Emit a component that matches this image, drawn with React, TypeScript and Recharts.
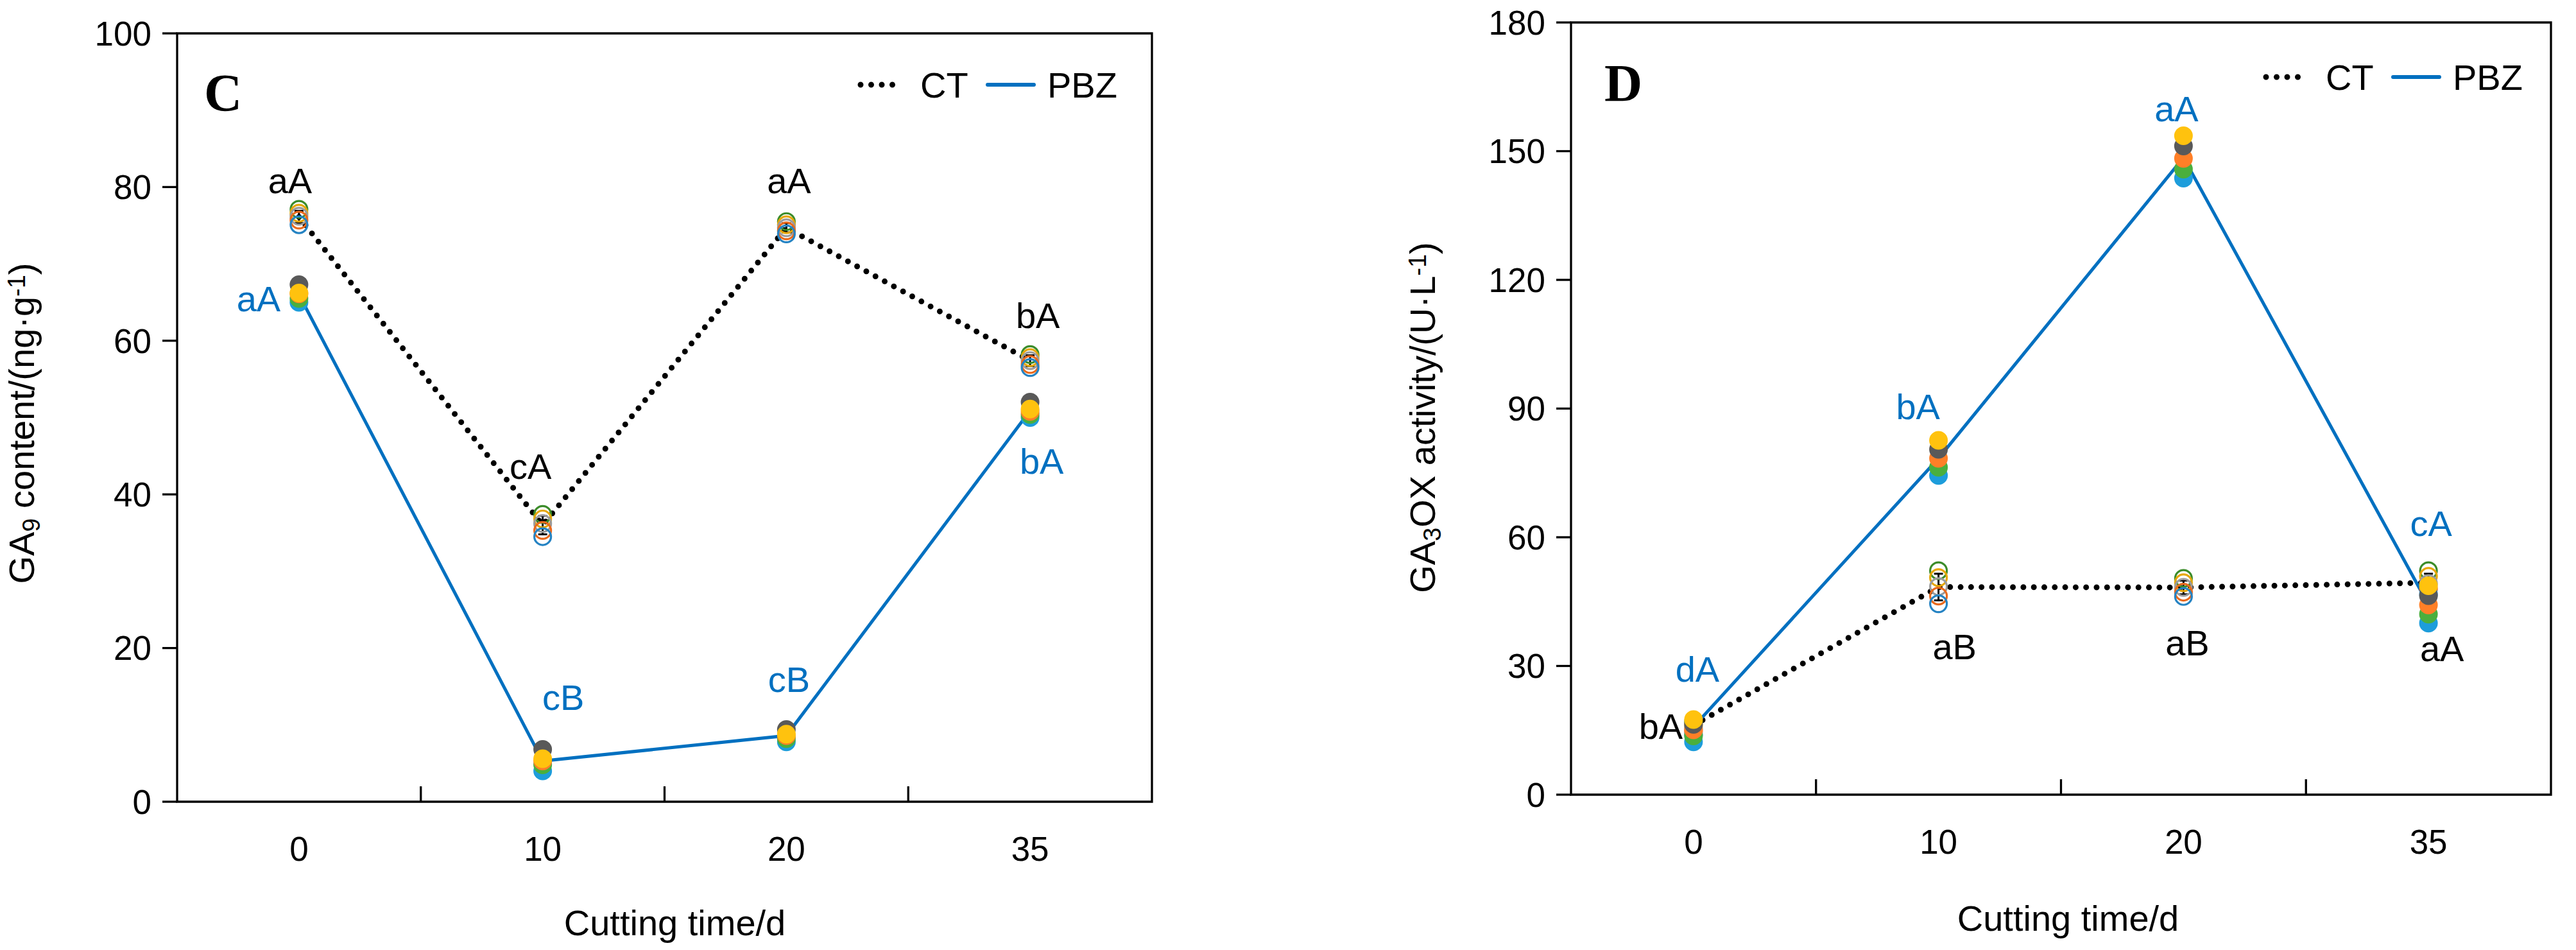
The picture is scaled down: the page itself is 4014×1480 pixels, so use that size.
import React from "react";
import {
  ComposedChart,
  Line,
  Scatter,
  XAxis,
  YAxis,
  ReferenceArea,
  ErrorBar,
  LabelList,
  Legend,
} from "recharts";

const FONT = "'Liberation Sans', Arial, Helvetica, sans-serif";
const SERIF = "'Liberation Serif', 'Times New Roman', serif";
const BLUE = "#0070c0";

const DAYS = ["0", "10", "20", "35"];
const X_POS = [0, 1, 2, 3];

// replicate colours (filled = PBZ, hollow = CT)
const FILL: Record<string, string> = {
  blue: "#1d9ddb",
  green: "#4aaf3d",
  orange: "#ff7f27",
  gray: "#595959",
  yellow: "#ffc20e",
};
const RING: Record<string, string> = {
  green: "#3b8c2a",
  yellow: "#e6a70a",
  gray: "#9b9b9b",
  orange: "#e96a1d",
  blue: "#2583c3",
};
const FILL_ORDER = ["blue", "green", "orange", "gray", "yellow"];
const RING_ORDER = ["green", "yellow", "gray", "orange", "blue"];

// ---- panel C: GA9 content (ng/g) ----
const C_CT_MEAN = [76.1, 36.0, 74.7, 57.4];
const C_CT_SD = [0.8, 1.2, 0.6, 0.7];
const C_PBZ_MEAN = [66.0, 5.3, 8.6, 50.9];
const C_CT_SIG = ["aA", "cA", "aA", "bA"];
const C_PBZ_SIG = ["aA", "cB", "cB", "bA"];
const C_CT_REPS: Record<string, number[]> = {
  green: [77.1, 37.4, 75.5, 58.2],
  yellow: [76.6, 36.8, 75.1, 57.8],
  gray: [76.2, 36.2, 74.7, 57.4],
  orange: [75.7, 35.3, 74.3, 56.9],
  blue: [75.1, 34.5, 73.9, 56.5],
};
const C_PBZ_REPS: Record<string, number[]> = {
  gray: [67.3, 6.8, 9.4, 52.0],
  yellow: [66.2, 5.6, 8.8, 51.1],
  orange: [66.1, 5.3, 8.6, 50.8],
  green: [65.5, 4.8, 8.2, 50.4],
  blue: [65.0, 4.0, 7.8, 50.0],
};
const C_Y_TICKS = [0, 20, 40, 60, 80, 100];

// ---- panel D: GA3OX activity (U/L) ----
const D_CT_MEAN = [16.2, 48.4, 48.3, 49.4];
const D_CT_SD = [1.2, 3.1, 1.6, 2.1];
const D_PBZ_MEAN = [15.8, 78.4, 148.5, 44.3];
const D_CT_SIG = ["bA", "aB", "aB", "aA"];
const D_PBZ_SIG = ["dA", "bA", "aA", "cA"];
const D_CT_REPS: Record<string, number[]> = {
  green: [17.0, 52.2, 50.4, 52.2],
  yellow: [16.2, 50.6, 49.4, 50.9],
  gray: [15.5, 48.5, 48.3, 49.2],
  orange: [14.8, 46.3, 47.2, 48.0],
  blue: [14.0, 44.5, 46.2, 46.7],
};
const D_PBZ_REPS: Record<string, number[]> = {
  yellow: [17.5, 82.6, 153.6, 48.7],
  gray: [16.4, 80.5, 151.2, 46.4],
  orange: [15.1, 78.4, 148.3, 44.2],
  green: [13.7, 76.3, 145.8, 42.1],
  blue: [12.3, 74.4, 143.7, 40.0],
};
const D_Y_TICKS = [0, 30, 60, 90, 120, 150, 180];

type Row = Record<string, number | string>;

function buildRows(
  ctMean: number[],
  ctSd: number[],
  pbzMean: number[],
  ctSig: string[],
  pbzSig: string[],
  ctReps: Record<string, number[]>,
  pbzReps: Record<string, number[]>
): Row[] {
  return X_POS.map((x, i) => {
    const row: Row = {
      x,
      ctMean: ctMean[i],
      ctSd: ctSd[i],
      pbzMean: pbzMean[i],
      ctSig: ctSig[i],
      pbzSig: pbzSig[i],
    };
    Object.keys(ctReps).forEach((k) => (row[`ct_${k}`] = ctReps[k][i]));
    Object.keys(pbzReps).forEach((k) => (row[`pbz_${k}`] = pbzReps[k][i]));
    return row;
  });
}

const C_ROWS = buildRows(C_CT_MEAN, C_CT_SD, C_PBZ_MEAN, C_CT_SIG, C_PBZ_SIG, C_CT_REPS, C_PBZ_REPS);
const D_ROWS = buildRows(D_CT_MEAN, D_CT_SD, D_PBZ_MEAN, D_CT_SIG, D_PBZ_SIG, D_CT_REPS, D_PBZ_REPS);

// x axis: labels at category centres, small inward ticks between categories
function XTick(props: any) {
  const { x, y, payload } = props;
  const v = payload.value;
  if (Number.isInteger(v)) {
    return (
      <text x={x} y={y + 92} textAnchor="middle" fontSize={53} fontFamily={FONT} fill="#000">
        {DAYS[v]}
      </text>
    );
  }
  return <line x1={x} x2={x} y1={y} y2={y - 24} stroke="#000" strokeWidth={3.3} />;
}

function sigLabel(offsets: number[][], color: string) {
  return (props: any) => {
    const i = props.index ?? 0;
    const px = props.viewBox?.x ?? props.x;
    const py = props.viewBox?.y ?? props.y;
    const [dx, dy] = offsets[i] ?? [0, 0];
    return (
      <text
        x={px + dx}
        y={py + dy + 20}
        textAnchor="middle"
        fontSize={56}
        fontFamily={FONT}
        fill={color}
      >
        {props.value}
      </text>
    );
  };
}

const hollow = (color: string) => (p: any) =>
  <circle cx={p.cx} cy={p.cy} r={13} fill="none" stroke={color} strokeWidth={3.2} />;
const filled = (color: string) => (p: any) =>
  <circle cx={p.cx} cy={p.cy} r={14.5} fill={color} stroke="none" />;

function LegendBox() {
  return (
    <svg width={430} height={70} style={{ display: "block", overflow: "visible" }}>
      <line x1={5} x2={71} y1={35} y2={35} stroke="#000" strokeWidth={9} strokeDasharray="0 16.5" strokeLinecap="round" />
      <text x={98} y={55} fontSize={56} fontFamily={FONT} fill="#000">CT</text>
      <line x1={203} x2={275} y1={35} y2={35} stroke={BLUE} strokeWidth={6} strokeLinecap="round" />
      <text x={296} y={55} fontSize={56} fontFamily={FONT} fill="#000">PBZ</text>
    </svg>
  );
}

type PanelProps = {
  rows: Row[];
  yMax: number;
  yTicks: number[];
  letter: string;
  yTitle: React.ReactNode;
  margin: { top: number; right: number; bottom: number; left: number };
  yTitleX: number;
  yTitleDy: number;
  xTitleDx: number;
  xTitleDy: number;
  letterDx: number;
  letterDy: number;
  legendLeft: number;
  legendTop: number;
  ctOffsets: number[][];
  pbzOffsets: number[][];
};

function Panel(p: PanelProps) {
  return (
    <ComposedChart width={2007} height={1480} data={p.rows} margin={p.margin}>
      <XAxis
        dataKey="x"
        type="number"
        domain={[-0.5, 3.5]}
        ticks={[0, 0.5, 1, 1.5, 2, 2.5, 3]}
        interval={0}
        height={150}
        axisLine={false}
        tickLine={false}
        tickSize={0}
        tickMargin={0}
        tick={<XTick />}
        allowDataOverflow
        label={(lp: any) => {
          const vb = lp.viewBox;
          return (
            <text
              x={vb.x + vb.width / 2 + p.xTitleDx}
              y={vb.y + p.xTitleDy}
              textAnchor="middle"
              fontSize={56}
              fontFamily={FONT}
              fill="#000"
            >
              Cutting time/d
            </text>
          );
        }}
      />
      <YAxis
        type="number"
        domain={[0, p.yMax]}
        ticks={p.yTicks}
        interval={0}
        width={250}
        axisLine={false}
        tickLine={{ stroke: "#000", strokeWidth: 3.3 }}
        tickSize={23}
        tickMargin={17}
        tick={{ fontSize: 53, fontFamily: FONT, fill: "#000" }}
        allowDataOverflow
        label={(lp: any) => {
          const vb = lp.viewBox;
          const cy = vb.y + vb.height / 2 + p.yTitleDy;
          // rotated text: y is the baseline, which lands on screen x
          return (
            <text
              x={p.yTitleX}
              y={cy}
              transform={`rotate(-90 ${p.yTitleX} ${cy})`}
              textAnchor="middle"
              fontSize={56}
              fontFamily={FONT}
              fill="#000"
            >
              {p.yTitle}
            </text>
          );
        }}
      />
      <ReferenceArea
        x1={-0.5}
        x2={3.5}
        y1={0}
        y2={p.yMax}
        fill="none"
        fillOpacity={0}
        stroke="#000"
        strokeWidth={3.3}
        ifOverflow="visible"
        label={(lp: any) => {
          const vb = lp.viewBox;
          return (
            <text
              x={vb.x + p.letterDx}
              y={vb.y + p.letterDy}
              fontSize={82}
              fontWeight="bold"
              fontFamily={SERIF}
              fill="#000"
            >
              {p.letter}
            </text>
          );
        }}
      />
      <Line
        dataKey="ctMean"
        type="linear"
        stroke="#000"
        strokeWidth={9}
        strokeDasharray="0 16.3"
        strokeLinecap="round"
        dot={false}
        activeDot={false}
        isAnimationActive={false}
        legendType="none"
      >
        <LabelList dataKey="ctSig" content={sigLabel(p.ctOffsets, "#000")} />
      </Line>
      <Line
        dataKey="pbzMean"
        type="linear"
        stroke={BLUE}
        strokeWidth={5}
        dot={false}
        activeDot={false}
        isAnimationActive={false}
        legendType="none"
      >
        <LabelList dataKey="pbzSig" content={sigLabel(p.pbzOffsets, BLUE)} />
      </Line>
      {RING_ORDER.map((k) => (
        <Scatter
          key={`ct_${k}`}
          dataKey={`ct_${k}`}
          shape={hollow(RING[k])}
          isAnimationActive={false}
          legendType="none"
        />
      ))}
      <Line
        dataKey="ctMean"
        stroke="none"
        dot={false}
        activeDot={false}
        isAnimationActive={false}
        legendType="none"
      >
        <ErrorBar dataKey="ctSd" width={7} stroke="#000" strokeWidth={3} direction="y" />
      </Line>
      {FILL_ORDER.map((k) => (
        <Scatter
          key={`pbz_${k}`}
          dataKey={`pbz_${k}`}
          shape={filled(FILL[k])}
          isAnimationActive={false}
          legendType="none"
        />
      ))}
      <Legend
        layout="horizontal"
        verticalAlign="middle"
        align="center"
        content={() => <LegendBox />}
        wrapperStyle={{ left: p.legendLeft, top: p.legendTop, width: 430, height: 70 }}
      />
    </ComposedChart>
  );
}

export default function App() {
  return (
    <div style={{ position: "absolute", left: 0, top: 0, width: 4014, height: 1480, background: "#fff" }}>
      <div style={{ position: "absolute", left: 0, top: 0 }}>
        <Panel
          rows={C_ROWS}
          yMax={100}
          yTicks={C_Y_TICKS}
          letter="C"
          yTitle={
            <>
              GA<tspan fontSize={38} dy={9}>9</tspan>
              <tspan dy={-9}> content/(ng·g</tspan>
              <tspan fontSize={38} dy={-14}>-1</tspan>
              <tspan dy={14}>)</tspan>
            </>
          }
          margin={{ top: 52, right: 212, bottom: 81, left: 26 }}
          yTitleX={53}
          yTitleDy={9}
          xTitleDx={16}
          xTitleDy={208}
          letterDx={42}
          letterDy={120}
          legendLeft={1336}
          legendTop={97}
          ctOffsets={[[-14, -57], [-19, -92], [4, -74], [12, -71]]}
          pbzOffsets={[[-63, 6], [32, -100], [4, -88], [18, 78]]}
        />
      </div>
      <div style={{ position: "absolute", left: 2007, top: 0 }}>
        <Panel
          rows={D_ROWS}
          yMax={180}
          yTicks={D_Y_TICKS}
          letter="D"
          yTitle={
            <>
              GA<tspan fontSize={38} dy={9}>3</tspan>
              <tspan dy={-9}>OX activity/(U·L</tspan>
              <tspan fontSize={38} dy={-14}>-1</tspan>
              <tspan dy={14}>)</tspan>
            </>
          }
          margin={{ top: 35, right: 39, bottom: 92, left: 191 }}
          yTitleX={229}
          yTitleDy={14}
          xTitleDx={11}
          xTitleDy={212}
          letterDx={52}
          letterDy={122}
          legendLeft={1519}
          legendTop={85}
          ctOffsets={[[-51, 1], [25, 92], [6, 86], [21, 102]]}
          pbzOffsets={[[6, -90], [-32, -81], [-11, -77], [4, -127]]}
        />
      </div>
    </div>
  );
}
